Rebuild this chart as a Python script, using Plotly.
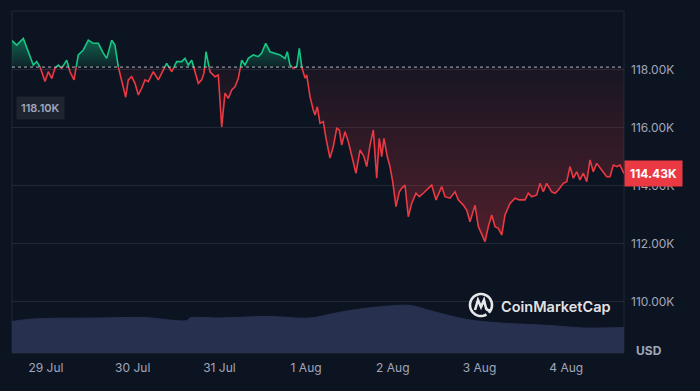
import numpy as np
import pandas as pd
import plotly.graph_objects as go

# ---------------- data ----------------
BASE_PRICE_K = 118.10          # reference (open) price, thousand USD
LAST_PRICE_K = 114.43

# hours since 29 Jul 00:00
price_hours = [
    -9.41, -8.11, -6.28, -5.34, -4.43, -3.52, -2.57, -1.66, -0.28, 0.64,
    1.58, 2.49, 3.40, 4.35, 5.73, 6.64, 7.75, 8.94, 10.33, 11.71,
    13.09, 14.48, 15.86, 16.80, 18.19, 19.10, 20.01, 20.96, 22.06, 22.78,
    23.72, 24.64, 25.55, 26.49, 27.41, 28.32, 29.70, 31.09, 32.47, 33.41,
    34.80, 36.18, 37.56, 38.48, 39.39, 40.33, 41.25, 42.16, 43.10, 43.74,
    44.29, 45.40, 46.78, 47.70, 48.64, 49.55, 50.46, 51.41, 52.32, 53.23,
    54.17, 55.09, 56.00, 57.39, 58.77, 59.71, 60.82, 62.01, 63.39, 64.78,
    66.16, 66.80, 67.54, 68.46, 69.40, 70.12, 70.78, 71.70, 72.17, 73.08,
    73.99, 74.46, 75.10, 75.85, 76.76, 77.51, 78.62, 79.53, 80.47, 81.19,
    81.86, 82.77, 83.68, 84.63, 85.81, 86.92, 88.03, 88.78, 89.69, 90.61,
    91.54, 92.26, 92.93, 93.56, 94.48, 95.22, 95.97, 96.89, 97.80, 98.46,
    99.38, 100.29, 101.23, 102.42, 103.34, 104.44, 105.83, 106.77, 107.96, 109.54,
    110.45, 111.84, 113.22, 114.13, 115.52, 116.46, 117.37, 118.76, 119.67, 120.61,
    121.53, 122.44, 123.38, 124.30, 125.21, 126.15, 127.06, 128.45, 129.83, 131.02,
    131.69, 132.60, 133.51, 134.45, 135.84, 136.75, 137.66, 138.60, 139.99, 140.90,
    141.82, 143.20, 144.14, 145.05, 145.97, 146.91, 147.82, 148.74, 149.68, 150.59,
    151.50, 152.44, 153.83, 155.21, 156.13, 157.04, 157.98, 158.89, 160.00,
]
price_k = [
    119.01, 118.86, 119.09, 118.80, 118.52, 118.17, 118.29, 118.11, 117.60, 117.94,
    117.71, 118.06, 118.17, 118.06, 118.34, 117.94, 117.66, 118.52, 118.69, 119.03,
    118.92, 118.92, 118.58, 118.40, 119.03, 118.86, 118.11, 117.66, 117.06, 117.66,
    117.77, 117.54, 117.14, 117.37, 117.66, 117.60, 117.94, 117.66, 118.00, 118.23,
    117.94, 118.29, 118.29, 118.40, 118.17, 118.34, 117.94, 117.54, 117.66, 117.89,
    118.63, 117.94, 117.77, 117.83, 116.04, 117.20, 117.02, 117.31, 117.42, 117.71,
    118.34, 118.17, 118.40, 118.52, 118.46, 118.58, 118.92, 118.63, 118.58, 118.52,
    118.40, 118.63, 118.17, 118.06, 118.11, 118.75, 118.11, 117.72, 117.83, 117.08,
    116.62, 116.45, 116.73, 116.16, 116.22, 115.64, 114.96, 115.36, 115.99, 115.93,
    115.41, 115.87, 115.53, 115.07, 114.44, 115.24, 115.01, 114.67, 115.41, 115.93,
    114.27, 115.64, 115.01, 115.64, 115.01, 114.67, 114.15, 113.29, 113.80, 113.92,
    114.03, 112.94, 113.40, 113.75, 113.63, 113.75, 113.92, 114.03, 113.52, 113.98,
    113.63, 113.58, 113.80, 113.52, 113.34, 113.17, 112.77, 113.34, 112.60, 112.31,
    112.08, 112.60, 113.00, 112.60, 112.54, 112.31, 113.00, 113.40, 113.58, 113.52,
    113.52, 113.52, 113.75, 113.63, 113.69, 114.09, 113.80, 114.09, 113.80, 113.75,
    113.86, 114.09, 114.15, 114.67, 114.27, 114.49, 114.21, 114.44, 114.15, 114.90,
    114.49, 114.78, 114.55, 114.32, 114.32, 114.72, 114.67, 114.72, 114.43,
]

volume_hours = [-9.41, -3.52, 14.95, 26.93, 38.95, 39.86, 48.17, 61.09, 73.08,
                79.53, 84.15, 93.37, 100.76, 107.21, 116.46, 125.70, 139.54,
                148.74, 160.00]
volume_b = [63, 68, 70, 71, 65, 70, 70, 73, 70, 79, 85, 93, 95, 83, 67, 60,
            55, 50, 51]

day_ticks = ["2025-07-29", "2025-07-30", "2025-07-31", "2025-08-01",
             "2025-08-02", "2025-08-03", "2025-08-04"]
day_labels = ["29 Jul", "30 Jul", "31 Jul", "1 Aug", "2 Aug", "3 Aug", "4 Aug"]
price_tick_vals = [110, 112, 114, 116, 118]
price_tick_text = ["110.00K", "112.00K", "114.00K", "116.00K", "118.00K"]

# ---------------- styling ----------------
BG = "#0d1421"
GRID = "#222836"
TXT = "#a1a7bb"
GREEN = "#16c784"
RED = "#ea3943"
VOL = "#283050"
FONT = "Inter"

t0 = pd.Timestamp("2025-07-29 00:00")


def to_time(h):
    return t0 + pd.to_timedelta(np.asarray(h, dtype=float), unit="h")


# insert baseline crossing points so the colour split is clean
H, P = [], []
for i in range(len(price_hours)):
    if i > 0:
        p0, p1 = price_k[i - 1], price_k[i]
        if (p0 - BASE_PRICE_K) * (p1 - BASE_PRICE_K) < 0:
            f = (BASE_PRICE_K - p0) / (p1 - p0)
            H.append(price_hours[i - 1] + f * (price_hours[i] - price_hours[i - 1]))
            P.append(BASE_PRICE_K)
    H.append(price_hours[i])
    P.append(price_k[i])
H = np.array(H)
P = np.array(P)
T = to_time(H)

up_line = np.where(P >= BASE_PRICE_K, P, np.nan)
dn_line = np.where(P <= BASE_PRICE_K, P, np.nan)
up_fill = np.maximum(P, BASE_PRICE_K)
dn_fill = np.minimum(P, BASE_PRICE_K)
base = np.full_like(P, BASE_PRICE_K)

fig = go.Figure()

# volume (secondary axis)
fig.add_trace(go.Scatter(
    x=to_time(volume_hours), y=volume_b, yaxis="y2", mode="lines",
    line=dict(color=VOL, width=1, shape="spline"), fill="tozeroy",
    fillcolor=VOL, hoverinfo="skip", showlegend=False))

# green fill
fig.add_trace(go.Scatter(x=T, y=base, mode="lines", line=dict(width=0),
                         hoverinfo="skip", showlegend=False))
fig.add_trace(go.Scatter(
    x=T, y=up_fill, mode="lines", line=dict(width=0), fill="tonexty",
    fillgradient=dict(type="vertical",
                      colorscale=[[0, "rgba(22,199,132,0.08)"],
                                  [1, "rgba(22,199,132,0.45)"]]),
    hoverinfo="skip", showlegend=False))
# red fill
fig.add_trace(go.Scatter(x=T, y=base, mode="lines", line=dict(width=0),
                         hoverinfo="skip", showlegend=False))
fig.add_trace(go.Scatter(
    x=T, y=dn_fill, mode="lines", line=dict(width=0), fill="tonexty",
    fillgradient=dict(type="vertical",
                      colorscale=[[0, "rgba(234,57,67,0.30)"],
                                  [1, "rgba(234,57,67,0.05)"]]),
    hoverinfo="skip", showlegend=False))

# lines
fig.add_trace(go.Scatter(x=T, y=up_line, mode="lines",
                         line=dict(color=GREEN, width=1.6),
                         connectgaps=False, showlegend=False))
fig.add_trace(go.Scatter(x=T, y=dn_line, mode="lines",
                         line=dict(color=RED, width=1.6),
                         connectgaps=False, showlegend=False))

x_range = [to_time([-9.41])[0], to_time([160.0])[0]]

fig.update_layout(
    width=700, height=391,
    margin=dict(l=12, r=76, t=11, b=38),
    paper_bgcolor=BG, plot_bgcolor=BG,
    font=dict(family=FONT, color=TXT, size=12),
    showlegend=False,
    xaxis=dict(range=x_range, showgrid=False, zeroline=False,
               tickvals=pd.to_datetime(day_ticks), ticktext=day_labels,
               ticks="", tickfont=dict(size=12, color=TXT),
               ticklabelstandoff=6, showline=False),
    yaxis=dict(range=[108.241, 120.034], side="right",
               tickvals=price_tick_vals, ticktext=price_tick_text,
               gridcolor=GRID, gridwidth=1, zeroline=False, ticks="",
               tickfont=dict(size=12, color=TXT), ticklabelstandoff=6,
               showline=False),
    yaxis2=dict(range=[0, 684], overlaying="y", visible=False,
                showgrid=False),
)

# frame
fig.add_shape(type="rect", xref="paper", yref="paper", x0=0, x1=1, y0=0, y1=1,
              line=dict(color=GRID, width=1), layer="below")
# baseline dotted
fig.add_shape(type="line", xref="paper", yref="y", x0=0, x1=1,
              y0=BASE_PRICE_K, y1=BASE_PRICE_K,
              line=dict(color="rgba(230,232,240,0.75)", width=1, dash="dot"))

# CoinMarketCap logo mark
ang = np.deg2rad(np.linspace(-45, 300, 40))
r = 11
circ = " ".join(("M" if i == 0 else "L") + f"{r*np.cos(a):.2f},{r*np.sin(a):.2f}"
                for i, a in enumerate(ang))
m_path = "M-6,-5 L-3,5 L0,-2 L3,5 L5,-3 Q6,-6 10,-5"
fig.add_shape(type="path", xref="paper", yref="paper",
              xsizemode="pixel", ysizemode="pixel",
              xanchor=(481 - 12) / 612, yanchor=1 - (305 - 11) / 342,
              path=circ + " " + m_path,
              line=dict(color="rgba(255,255,255,0.9)", width=2.6))

fig.add_annotation(text="CoinMarketCap", xref="paper", yref="paper",
                   x=(499 - 12) / 612, y=1 - (306 - 11) / 342,
                   xanchor="left", yanchor="middle", showarrow=False,
                   font=dict(family=FONT, size=14.5, color="rgba(255,255,255,0.9)",
                             weight=600))

# labels
fig.add_annotation(text="118.10K", xref="paper", yref="paper",
                   x=(16 - 12) / 612, y=1 - (108 - 11) / 342,
                   xanchor="left", yanchor="middle", showarrow=False,
                   bgcolor="#1f2431", borderpad=4,
                   font=dict(family=FONT, size=11, color=TXT, weight=600))
fig.add_annotation(text=f"{LAST_PRICE_K:.2f}K", xref="paper", yref="y",
                   x=1, y=LAST_PRICE_K, xanchor="left", yanchor="middle",
                   showarrow=False, bgcolor=RED, borderpad=5,
                   font=dict(family=FONT, size=12, color="white", weight=700))
fig.add_annotation(text="USD", xref="paper", yref="paper",
                   x=(649 - 12) / 612, y=1 - (350 - 11) / 342,
                   xanchor="center", yanchor="middle", showarrow=False,
                   font=dict(family=FONT, size=12, color=TXT, weight=700))

fig.write_html(
    "out.html",
    config={"displayModeBar": False},
    post_script="document.body.style.margin='0';"
                "document.body.style.background='#0d1421';",
)
